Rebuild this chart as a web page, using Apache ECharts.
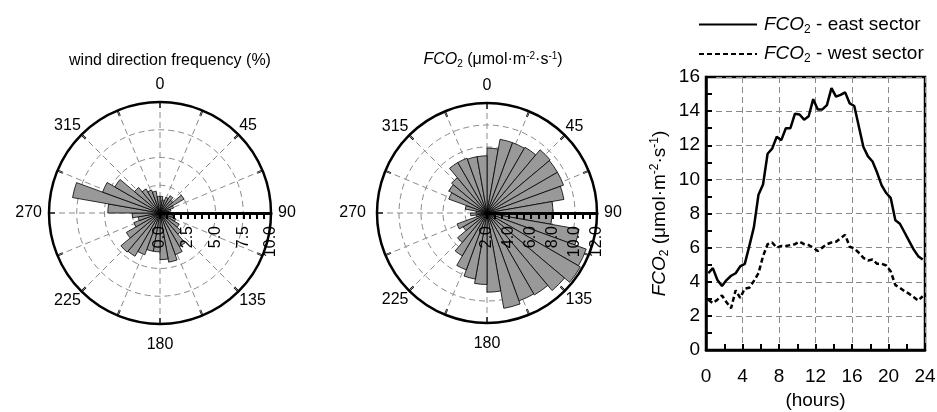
<!DOCTYPE html>
<html>
<head>
<meta charset="utf-8">
<script src="https://cdn.jsdelivr.net/npm/echarts@6/dist/echarts.min.js"></script>
<style>
  html, body { margin: 0; padding: 0; background: #fff; }
  #chart { width: 937px; height: 412px; }
</style>
</head>
<body>
<div id="chart"></div>
<script>
// Wind sectors: centre of each 10-degree sector (compass degrees)
const sectors = [5, 15, 25, 35, 45, 55, 65, 75, 85, 95, 105, 115, 125, 135, 145, 155, 165, 175,
                 185, 195, 205, 215, 225, 235, 245, 255, 265, 275, 285, 295, 305, 315, 325, 335, 345, 355];

// Wind direction frequency (%) per sector
const windFreq = [1.5, 1.2, 1.5, 1.8, 1.5, 2.5, 1.3, 1.0, 0.8, 1.0, 1.2, 1.5, 2.0, 2.5, 3.5, 4.0, 4.5, 4.2,
                  3.5, 3.5, 4.0, 4.5, 4.6, 3.5, 2.5, 2.0, 2.5, 4.7, 8.0, 5.5, 4.7, 3.0, 2.5, 2.2, 2.0, 1.5];

// Mean CO2 flux (umol m-2 s-1) per sector
const fco2Sector = [7.9, 8.8, 8.8, 8.9, 9.5, 9.4, 9.4, 9.1, 8.0, 7.9, 10.5, 11.6, 11.8, 11.2, 10.6, 10.5, 10.8, 9.2,
                    8.5, 8.1, 7.5, 6.5, 5.5, 4.5, 4.9, 3.0, 3.5, 3.0, 4.0, 5.7, 6.0, 6.2, 7.3, 7.3, 7.2, 7.2];

// Diurnal course, half-hour averages
const hours = [0.25, 0.75, 1.25, 1.75, 2.25, 2.75, 3.25, 3.75, 4.25, 4.75, 5.25, 5.75,
               6.25, 6.75, 7.25, 7.75, 8.25, 8.75, 9.25, 9.75, 10.25, 10.75, 11.25, 11.75,
               12.25, 12.75, 13.25, 13.75, 14.25, 14.75, 15.25, 15.75, 16.25, 16.75, 17.25, 17.75,
               18.25, 18.75, 19.25, 19.75, 20.25, 20.75, 21.25, 21.75, 22.25, 22.75, 23.25, 23.75];

const fco2East = [4.5, 4.8, 4.1, 3.75, 4.1, 4.35, 4.5, 4.9, 5.05, 6.1, 7.2, 9.1,
                  9.7, 11.5, 11.8, 12.5, 12.3, 13.0, 13.0, 13.85, 13.8, 13.5, 13.7, 14.7,
                  14.1, 14.1, 14.35, 15.35, 14.85, 14.95, 15.1, 14.45, 14.3, 13.1, 11.9, 11.35,
                  11.05, 10.4, 9.65, 9.2, 8.9, 7.6, 7.4, 6.9, 6.4, 5.9, 5.5, 5.3];

const fco2West = [2.95, 2.75, 2.95, 3.2, 2.8, 2.45, 3.5, 3.05, 3.6, 3.65, 4.05, 4.5,
                  5.5, 6.2, 6.3, 6.0, 6.1, 6.1, 6.15, 6.2, 6.35, 6.2, 6.15, 6.0,
                  5.8, 6.0, 6.2, 6.3, 6.35, 6.55, 6.75, 6.05, 5.95, 5.7, 5.4, 5.25,
                  5.3, 5.05, 5.05, 4.95, 4.6, 3.8, 3.65, 3.45, 3.3, 3.1, 2.9, 3.15];

const FONT = 'Liberation Sans, Arial, sans-serif';
const DASH = [6, 4];
const GRIDGRAY = '#8a8a8a';

function fco2Rich(size) {
  const small = Math.round(size * 0.62);
  const shift = Math.round(size * 0.52);
  return {
    t: { fontFamily: FONT, fontSize: size, color: '#000' },
    i: { fontFamily: FONT, fontSize: size, color: '#000', fontStyle: 'italic' },
    sub: { fontFamily: FONT, fontSize: small, color: '#000', padding: [shift, 0, 0, 0] },
    sup: { fontFamily: FONT, fontSize: small, color: '#000', padding: [0, 0, shift, 0] }
  };
}
const FCO2_UNIT = '{i|FCO}{sub|2}{t| (μmol·m}{sup|-2}{t|·s}{sup|-1}{t|)}';

// compass label for an angle measured clockwise from east;
// the cardinal points sit a little further from the rim than the diagonals
const compassStyle = { N: '0', E: '90', S: '180', W: '270' };
function compassLabel(v) {
  const c = ((v + 90) % 360 + 360) % 360;
  if (c % 45 !== 0) return '';
  for (const k in compassStyle) {
    if (compassStyle[k] === String(c)) return '{' + k + '|' + c + '}';
  }
  return '{d|' + c + '}';
}
function compassRich(extraW) {
  const base = { fontFamily: FONT, fontSize: 16, color: '#000' };
  return {
    d: Object.assign({}, base),
    N: Object.assign({ padding: [0, 0, 8, 0] }, base),
    S: Object.assign({ padding: [12, 0, 0, 0] }, base),
    E: Object.assign({ padding: [0, 0, 0, 6] }, base),
    W: Object.assign({ padding: [0, 6 + extraW, 0, 0] }, base)
  };
}

// one rose = a bar polar (category sectors from north) + an axis polar (value angle from east)
function rosePolars(cx, cy, r) {
  return [
    { center: [cx, cy], radius: r },
    { center: [cx, cy], radius: r }
  ];
}

function roseAngleAxes(barPolar, axisPolar, extraW) {
  return [
    { polarIndex: barPolar, type: 'category', data: sectors, startAngle: 90, clockwise: true,
      boundaryGap: true, show: false },
    { polarIndex: axisPolar, type: 'value', min: 0, max: 360, interval: 22.5, startAngle: 0, clockwise: true,
      axisLine: { lineStyle: { color: '#000', width: 2.5 } },
      axisTick: { inside: true, length: 6, lineStyle: { color: '#000', width: 2 } },
      splitLine: { show: true, lineStyle: { color: GRIDGRAY, width: 1, type: DASH } },
      axisLabel: { formatter: compassLabel, fontFamily: FONT, fontSize: 16, color: '#000', margin: 1,
                   rich: compassRich(extraW) } }
  ];
}

function roseRadiusAxes(barPolar, axisPolar, min, max, step, minorSplit) {
  return [
    { polarIndex: barPolar, type: 'value', min: min, max: max, interval: step,
      axisLine: { show: false }, axisTick: { show: false }, axisLabel: { show: false },
      splitLine: { show: true, lineStyle: { color: GRIDGRAY, width: 1, type: DASH } }, z: 0 },
    { polarIndex: axisPolar, type: 'value', min: min, max: max, interval: step, z: 5,
      axisLine: { lineStyle: { color: '#000', width: 3 } },
      axisTick: { length: -6, lineStyle: { color: '#000', width: 2 } },
      minorTick: { show: true, splitNumber: minorSplit, length: -6, lineStyle: { color: '#000', width: 2 } },
      splitLine: { show: false },
      axisLabel: { rotate: 90, align: 'right', verticalAlign: 'middle', margin: -13,
                   formatter: v => v.toFixed(1), fontFamily: FONT, fontSize: 16, color: '#000' } }
  ];
}

const barStyle = { color: '#999999', borderColor: '#000', borderWidth: 0.8 };

const option = {
  animation: false,
  backgroundColor: '#fff',
  textStyle: { fontFamily: FONT },
  title: [
    { text: 'wind direction frequency (%)', left: 165, top: 48, textAlign: 'center',
      textStyle: { fontFamily: FONT, fontSize: 16, fontWeight: 'normal', color: '#000' } },
    { text: FCO2_UNIT, left: 488, top: 46, textAlign: 'center',
      textStyle: { fontSize: 16, fontWeight: 'normal', rich: fco2Rich(16) } }
  ],
  polar: [].concat(rosePolars(160, 213, 111), rosePolars(487, 213, 110)),
  angleAxis: [].concat(roseAngleAxes(0, 1, 0), roseAngleAxes(2, 3, 4)),
  radiusAxis: [].concat(roseRadiusAxes(0, 1, 0, 10, 2.5, 4), roseRadiusAxes(2, 3, 2, 12, 2, 3)),
  grid: { left: 706, top: 77, width: 219, height: 273, show: true, borderColor: '#000', borderWidth: 2.5,
          backgroundColor: 'transparent', outerBoundsMode: 'none', containLabel: false },
  legend: {
    left: 693, top: 10, orient: 'vertical', itemWidth: 58, itemHeight: 14, itemGap: 9,
    data: ['east', 'west'],
    itemStyle: { color: 'rgba(0,0,0,0)', borderWidth: 0, opacity: 0 },
    formatter: n => '{i|FCO}{sub|2}{t| - ' + n + ' sector}',
    textStyle: { fontSize: 19, padding: [0, 0, 0, 2], rich: fco2Rich(19) }
  },
  xAxis: {
    type: 'value', min: 0, max: 24, interval: 4,
    name: '(hours)', nameLocation: 'middle', nameGap: 39,
    nameTextStyle: { fontFamily: FONT, fontSize: 19, color: '#000' },
    axisLine: { lineStyle: { color: '#000', width: 2.5 } },
    axisTick: { inside: true, length: 6, lineStyle: { color: '#000', width: 2 } },
    minorTick: { show: true, splitNumber: 2, length: 6, lineStyle: { color: '#000', width: 2 } },
    splitLine: { show: true, lineStyle: { color: GRIDGRAY, width: 1, type: DASH } },
    axisLabel: { fontFamily: FONT, fontSize: 19, color: '#000', margin: 17 }
  },
  yAxis: {
    type: 'value', min: 0, max: 16, interval: 2,
    name: FCO2_UNIT, nameLocation: 'middle', nameGap: 35, nameRotate: 90,
    nameTextStyle: { fontSize: 19, rich: fco2Rich(19) },
    axisLine: { lineStyle: { color: '#000', width: 2.5 } },
    axisTick: { inside: true, length: 6, lineStyle: { color: '#000', width: 2 } },
    minorTick: { show: true, splitNumber: 2, length: 6, lineStyle: { color: '#000', width: 2 } },
    splitLine: { show: true, lineStyle: { color: GRIDGRAY, width: 1, type: DASH } },
    axisLabel: { fontFamily: FONT, fontSize: 19, color: '#000', margin: 6 }
  },
  series: [
    { type: 'bar', coordinateSystem: 'polar', polarIndex: 0, data: windFreq,
      barCategoryGap: '0%', itemStyle: barStyle, z: 2 },
    { type: 'bar', coordinateSystem: 'polar', polarIndex: 2, data: fco2Sector,
      barCategoryGap: '0%', itemStyle: barStyle, z: 2 },
    { name: 'east', type: 'line', data: hours.map((h, k) => [h, fco2East[k]]), symbol: 'none',
      itemStyle: { color: '#000' },
      lineStyle: { color: '#000', width: 2.5, type: 'solid' }, z: 3 },
    { name: 'west', type: 'line', data: hours.map((h, k) => [h, fco2West[k]]), symbol: 'none',
      itemStyle: { color: '#000' },
      lineStyle: { color: '#000', width: 2.5, type: [5, 3] }, z: 3 }
  ]
};

const chart = echarts.init(document.getElementById('chart'), null, { renderer: 'canvas' });
chart.setOption(option);
</script>
</body>
</html>
